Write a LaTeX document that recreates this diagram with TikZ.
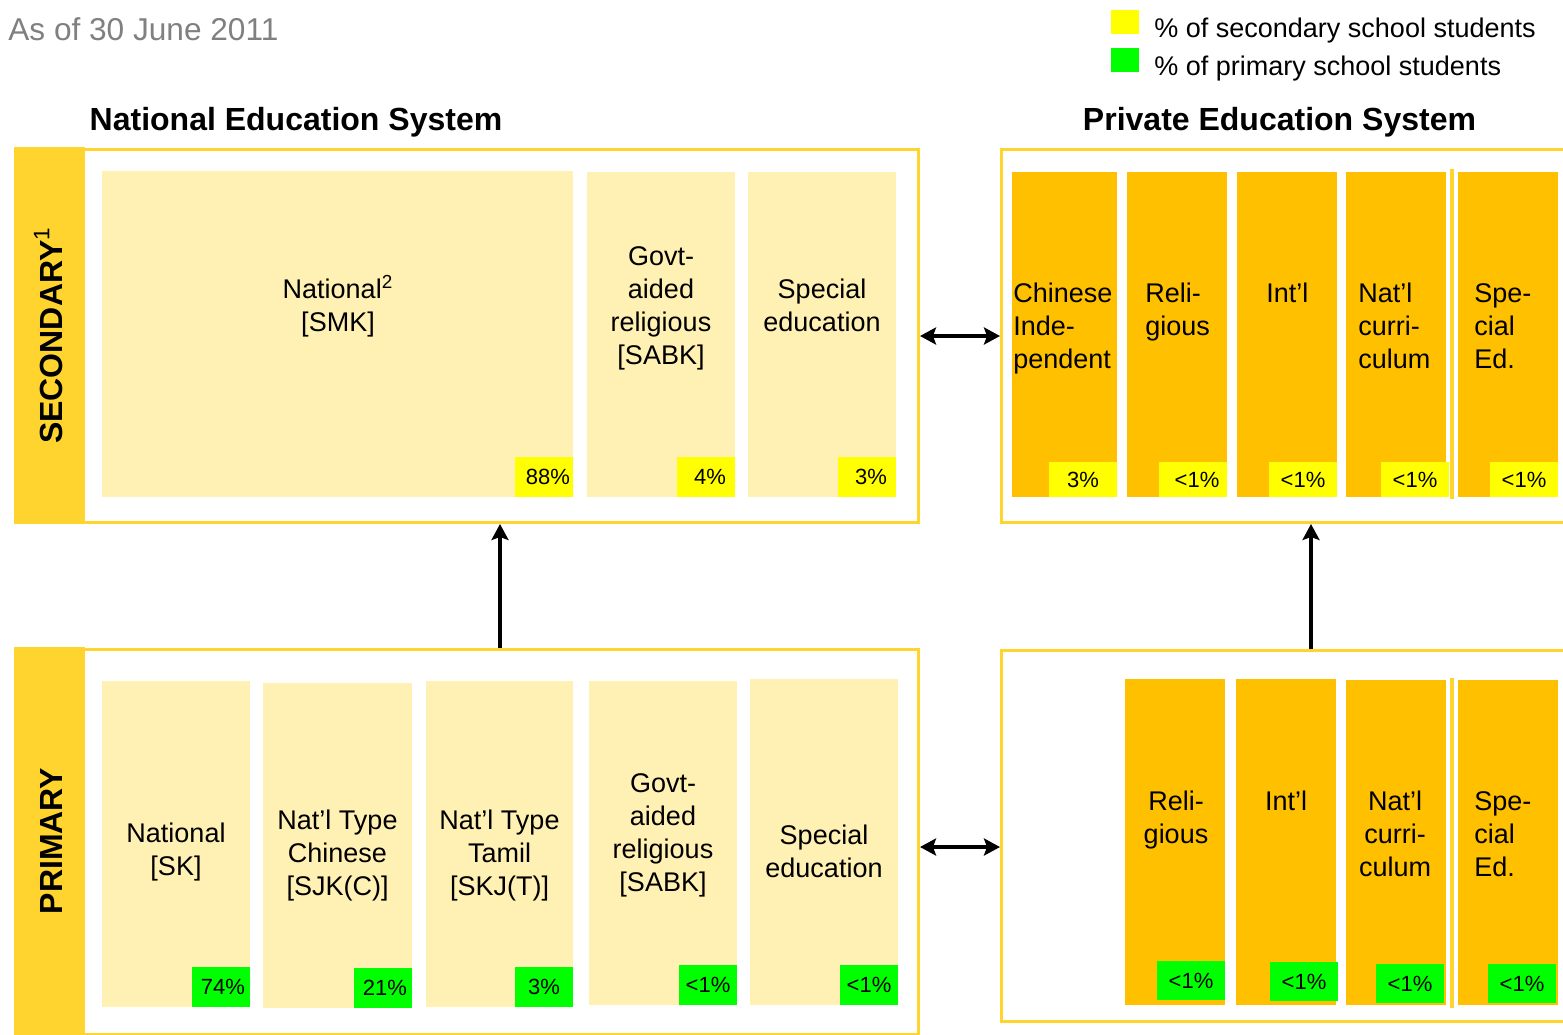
\documentclass[tikz,border=0pt]{standalone}
\usepackage{fontspec}
\setmainfont{Liberation Sans}
\usetikzlibrary{arrows.meta,fit}
\definecolor{framegold}{HTML}{FFD42F}
\definecolor{paleyellow}{HTML}{FFF0B3}
\definecolor{amber}{HTML}{FFC000}
\definecolor{tagyellow}{HTML}{FFFF00}
\definecolor{taggreen}{HTML}{00FF00}
\definecolor{dategray}{HTML}{808080}
\begin{document}
\begin{tikzpicture}[x=0.5pt,y=-0.5pt,
  sysframe/.style={draw=framegold,line width=1.5pt,fill=white,inner sep=0pt},
  band/.style={fill=framegold,inner sep=0pt},
  pubbox/.style={fill=paleyellow,inner sep=0pt},
  privbox/.style={fill=amber,inner sep=0pt},
  boxtext/.style={inner sep=0pt,font=\fontsize{13.5}{16.5}\selectfont},
  pcttag/.style={anchor=south east,inner sep=0pt,font=\fontsize{11}{13}\selectfont},
  nattag/.style={pcttag,minimum width=29pt,minimum height=20pt},
  privtag/.style={pcttag,minimum width=34pt,minimum height=17.5pt},
  sidelabel/.style={rotate=90,anchor=base,inner sep=0pt,font=\fontsize{16}{19}\selectfont\bfseries},
  systitle/.style={anchor=base,inner sep=0pt,font=\fontsize{16}{19}\selectfont\bfseries},
  keytext/.style={anchor=base west,inner sep=0pt,font=\fontsize{13.5}{16}\selectfont},
  link/.style={line width=2.4pt,-{Stealth[length=8pt,width=8.5pt,inset=1.5pt]}},
  twoway/.style={line width=2.4pt,{Stealth[length=8pt,width=8.5pt,inset=1.5pt]}-{Stealth[length=8pt,width=8.5pt,inset=1.5pt]}}]
  \useasboundingbox (0,0) rectangle (1563,1034);

  \node[anchor=base west,inner sep=0pt,text=dategray,font=\fontsize{15.8}{18}\selectfont] (asof) at (8,40) {As of 30 June 2011};
  \node[inner sep=0pt,fill=tagyellow,fit={(1111,10) (1139,34)}] (seckey) {};
  \node[inner sep=0pt,fill=taggreen,fit={(1111,48) (1139,72)}] (primkey) {};
  \node[keytext] (seckeytext) at (1154,37) {\% of secondary school students};
  \node[keytext] (primkeytext) at (1154,75) {\% of primary school students};
  \node[systitle] (nattitle) at (296,130) {National Education System};
  \node[systitle] (privtitle) at (1279.5,130) {Private Education System};

  \node[sysframe,fit={(15.5,149.5) (918.5,522.5)}] (secnat) {};
  \node[sysframe,fit={(1001.5,149.5) (1580,522.5)}] (secpriv) {};
  \node[sysframe,fit={(15.5,649.5) (918.5,1034.5)}] (primnat) {};
  \node[sysframe,fit={(1001.5,650.5) (1580,1021.5)}] (primpriv) {};
  \node[band,fit={(14,147) (85,524)}] (secband) {};
  \node[band,fit={(14,647) (85,1040)}] (primband) {};
  \node[sidelabel] (seclabel) at (62,335.5) {SECONDARY\textsuperscript{\mdseries 1}};
  \node[sidelabel] (primlabel) at (62,841) {PRIMARY};

  \node[pubbox,fit={(102,171) (573,497)}] (smk) {};
  \node[pubbox,fit={(587,172) (735,497)}] (sabksec) {};
  \node[pubbox,fit={(748,172) (896,497)}] (specsec) {};
  \node[boxtext,align=center,anchor=north] (smktext) at (338,279) {National\smash{\textsuperscript{2}}\\{}[SMK]};
  \node[boxtext,align=center,anchor=north] (sabksectext) at (661,246) {Govt-\\aided\\religious\\{}[SABK]};
  \node[boxtext,align=center,anchor=north] (specsectext) at (822,279) {Special\\education};
  \node[nattag,fill=tagyellow] (smktag) at (smk.south east) {\hspace{4pt}88\%};
  \node[nattag,fill=tagyellow] (sabksectag) at (sabksec.south east) {\hspace{4pt}4\%};
  \node[nattag,fill=tagyellow] (specsectag) at (specsec.south east) {\hspace{4pt}3\%};

  \node[privbox,fit={(1012,172) (1117,497)}] (cis) {};
  \node[privbox,fit={(1127,172) (1227,497)}] (relsec) {};
  \node[privbox,fit={(1237,172) (1337,497)}] (intlsec) {};
  \node[privbox,fit={(1346,172) (1446,497)}] (natcursec) {};
  \node[privbox,fit={(1458,172) (1558,497)}] (spedsec) {};
  \fill[framegold] (1450,169) rectangle (1454,499);
  \node[boxtext,align=left,anchor=north west] (cistext) at (1013,283) {Chinese\\Inde-\\pendent};
  \node[boxtext,align=left,anchor=north west] (relsectext) at (1145,283) {Reli-\\gious};
  \node[boxtext,align=left,anchor=north west] (intlsectext) at (1266,283) {Int’l};
  \node[boxtext,align=left,anchor=north west] (natcursectext) at (1358,283) {Nat’l\\curri-\\culum};
  \node[boxtext,align=left,anchor=north west] (spedsectext) at (1474,283) {Spe-\\cial\\Ed.};
  \node[privtag,fill=tagyellow] (cistag) at (cis.south east) {3\%};
  \node[privtag,fill=tagyellow] (relsectag) at (relsec.south east) {\hspace{4pt}<1\%};
  \node[privtag,fill=tagyellow] (intlsectag) at (intlsec.south east) {<1\%};
  \node[privtag,fill=tagyellow,xshift=1.5pt] (natcursectag) at (natcursec.south east) {<1\%};
  \node[privtag,fill=tagyellow] (spedsectag) at (spedsec.south east) {<1\%};

  \node[pubbox,fit={(102,681) (250,1007)}] (sk) {};
  \node[pubbox,fit={(263,683) (412,1008)}] (sjkc) {};
  \node[pubbox,fit={(426,681) (573,1007)}] (sjkt) {};
  \node[pubbox,fit={(589,681) (737,1005)}] (sabkpri) {};
  \node[pubbox,fit={(750,679) (898,1005)}] (specpri) {};
  \node[boxtext,align=center,anchor=north] (sktext) at (176,823) {National\\{}[SK]};
  \node[boxtext,align=center,anchor=north] (sjkctext) at (337.5,810) {Nat’l Type\\Chinese\\{}[SJK(C)]};
  \node[boxtext,align=center,anchor=north] (sjkttext) at (499.5,810) {Nat’l Type\\Tamil\\{}[SKJ(T)]};
  \node[boxtext,align=center,anchor=north] (sabkpritext) at (663,773) {Govt-\\aided\\religious\\{}[SABK]};
  \node[boxtext,align=center,anchor=north] (specpritext) at (824,825) {Special\\education};
  \node[nattag,fill=taggreen] (sktag) at (sk.south east) {\hspace{2pt}74\%};
  \node[nattag,fill=taggreen] (sjkctag) at (sjkc.south east) {\hspace{2pt}21\%};
  \node[nattag,fill=taggreen] (sjkttag) at (sjkt.south east) {3\%};
  \node[nattag,fill=taggreen] (sabkpritag) at (sabkpri.south east) {<1\%};
  \node[nattag,fill=taggreen] (specpritag) at (specpri.south east) {<1\%};

  \node[privbox,fit={(1125,679) (1225,1005)}] (relpri) {};
  \node[privbox,fit={(1236,679) (1336,1005)}] (intlpri) {};
  \node[privbox,fit={(1346,680) (1446,1005)}] (natcurpri) {};
  \node[privbox,fit={(1458,680) (1558,1005)}] (spedpri) {};
  \fill[framegold] (1450,678) rectangle (1454,1008);
  \node[boxtext,align=center,anchor=north] (relpritext) at (1176,791) {Reli-\\gious};
  \node[boxtext,align=center,anchor=north] (intlpritext) at (1286,791) {Int’l};
  \node[boxtext,align=center,anchor=north] (natcurpritext) at (1395,791) {Nat’l\\curri-\\culum};
  \node[boxtext,align=left,anchor=north west] (spedpritext) at (1474,791) {Spe-\\cial\\Ed.};
  \node[privtag,fill=taggreen,minimum height=19.5pt,yshift=2.5pt] (relpritag) at (relpri.south east) {<1\%};
  \node[privtag,fill=taggreen,minimum height=19.5pt,yshift=2pt,xshift=1pt] (intlpritag) at (intlpri.south east) {<1\%};
  \node[privtag,fill=taggreen,minimum height=19.5pt,yshift=1pt,xshift=-1pt] (natcurpritag) at (natcurpri.south east) {<1\%};
  \node[privtag,fill=taggreen,minimum height=19.5pt,yshift=1pt,xshift=-1pt] (spedpritag) at (spedpri.south east) {<1\%};

  \coordinate (natx) at (500,0);
  \coordinate (privx) at (1311,0);
  \coordinate (primy) at (0,847);
  \draw[link] (primnat.north -| natx) -- (secnat.south -| natx);
  \draw[link] (primpriv.north -| privx) -- (secpriv.south -| privx);
  \draw[twoway] (secnat.east) -- (secpriv.west);
  \draw[twoway] (primnat.east |- primy) -- (primpriv.west |- primy);
\end{tikzpicture}
\end{document}
